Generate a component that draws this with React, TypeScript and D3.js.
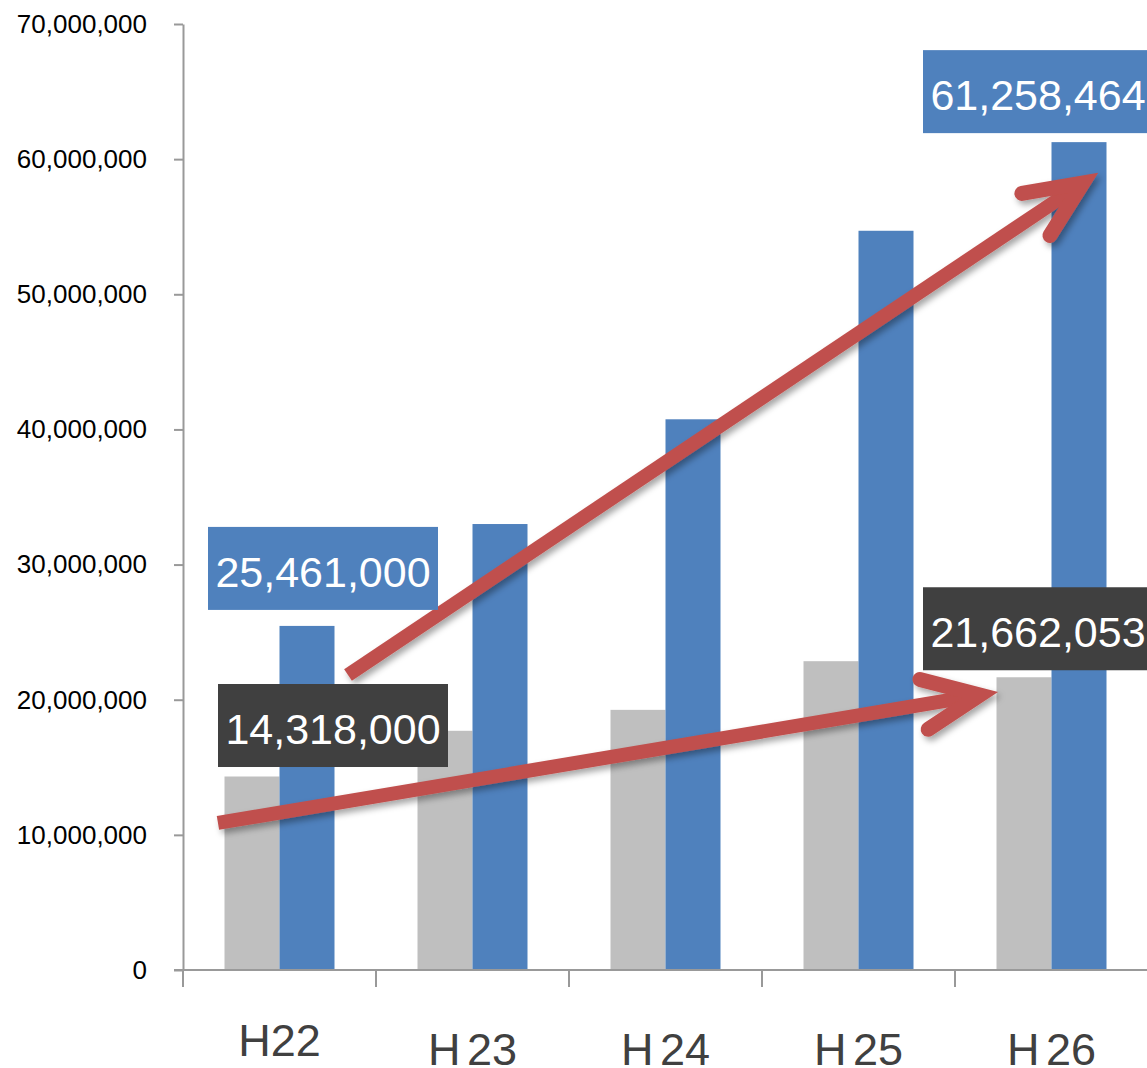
import React, { useEffect, useRef } from 'react';
import * as d3 from 'd3';

// categories and values
const categories = ['H22', 'H23', 'H24', 'H25', 'H26'];
const categoryLabels = ['H22', 'H 23', 'H 24', 'H 25', 'H 26'];
const grayValues = [14318000, 17700000, 19250000, 22850000, 21662053];
const blueValues = [25461000, 33000000, 40750000, 54700000, 61258464];
const yTicks = [0, 10000000, 20000000, 30000000, 40000000, 50000000, 60000000, 70000000];

// callouts: which category / value they belong to
const callouts = [
  { cat: 'H22', value: 25461000, kind: 'blue' },
  { cat: 'H22', value: 14318000, kind: 'dark' },
  { cat: 'H26', value: 61258464, kind: 'blue' },
  { cat: 'H26', value: 21662053, kind: 'dark' },
];

// trend arrows in (category index, value) space
const arrows = [
  { from: [0.355, 21830000], to: [4.163, 58240000] },
  { from: [-0.319, 10880000], to: [3.629, 20350000] },
];

const W = 1147, H = 1068;
const BLUE = '#4F81BD', GRAY = '#BFBFBF', DARK = '#404040', RED = '#C0504D', AXIS = '#999999';
const FONT = '"Liberation Sans", Arial, Helvetica, sans-serif';

// box offsets relative to category start / bar top
const calloutOffsets = [
  { dx: 25, dy: -99 },
  { dx: 35, dy: -92.5 },
  { dx: -32, dy: -92 },
  { dx: -32, dy: -90 },
];

export default function App() {
  const ref = useRef<SVGSVGElement>(null);

  useEffect(() => {
    const svg = d3.select(ref.current);
    svg.selectAll('*').remove();

    const x = d3.scaleBand().domain(categories).range([183, 1148]).padding(0);
    const bw = x.bandwidth();
    const group = 110;
    const xs = d3.scaleBand().domain(['gray', 'blue']).range([(bw - group) / 2, (bw + group) / 2]).padding(0);
    const y = d3.scaleLinear().domain([0, 70000000]).range([970, 24]);
    const xi = d3.scaleLinear().domain([0, 4]).range([x('H22')! + bw / 2, x('H26')! + bw / 2]);

    const defs = svg.append('defs');
    const filt = defs.append('filter').attr('id', 'shadow').attr('x', '-20%').attr('y', '-20%').attr('width', '140%').attr('height', '140%');
    filt.append('feDropShadow').attr('dx', 3).attr('dy', 4).attr('stdDeviation', 3)
      .attr('flood-color', '#000').attr('flood-opacity', 0.35);

    // y axis
    const yAxis = svg.append('g')
      .attr('transform', 'translate(183,0)')
      .call(d3.axisLeft(y).tickValues(yTicks).tickFormat(d3.format(',') as any).tickSize(9).tickSizeOuter(0).tickPadding(27));
    yAxis.select('.domain').attr('stroke', AXIS).attr('stroke-width', 2);
    yAxis.selectAll('.tick line').attr('stroke', AXIS).attr('stroke-width', 2);
    yAxis.selectAll('.tick text')
      .attr('fill', '#000').style('font-family', FONT).style('font-size', '26px');

    // bars
    const rows = categories.map((c, i) => ({ cat: c, gray: grayValues[i], blue: blueValues[i] }));
    const g = svg.append('g');
    g.selectAll('rect.gray').data(rows).enter().append('rect')
      .attr('x', d => x(d.cat)! + xs('gray')!)
      .attr('y', d => y(d.gray))
      .attr('width', xs.bandwidth())
      .attr('height', d => y(0) - y(d.gray))
      .attr('fill', GRAY);
    g.selectAll('rect.blue').data(rows).enter().append('rect')
      .attr('x', d => x(d.cat)! + xs('blue')!)
      .attr('y', d => y(d.blue))
      .attr('width', xs.bandwidth())
      .attr('height', d => y(0) - y(d.blue))
      .attr('fill', BLUE);

    // x axis
    const xa = svg.append('g');
    xa.append('line').attr('x1', 174).attr('x2', W).attr('y1', y(0)).attr('y2', y(0))
      .attr('stroke', AXIS).attr('stroke-width', 2);
    xa.selectAll('line.tick').data(categories).enter().append('line')
      .attr('x1', d => x(d)!).attr('x2', d => x(d)!)
      .attr('y1', y(0)).attr('y2', y(0) + 17)
      .attr('stroke', AXIS).attr('stroke-width', 2);
    xa.selectAll('text').data(categories).enter().append('text')
      .attr('x', d => x(d)! + bw / 2)
      .attr('y', (d, i) => (i === 0 ? 1056 : 1065))
      .attr('text-anchor', 'middle')
      .attr('fill', DARK)
      .style('font-family', FONT)
      .style('font-size', '45px')
      .style('white-space', 'pre')
      .style('word-spacing', '-6px')
      .text((d, i) => categoryLabels[i]);

    // arrows
    const ag = svg.append('g').attr('filter', 'url(#shadow)');
    arrows.forEach(a => {
      const x0 = xi(a.from[0]), y0 = y(a.from[1]);
      const x1 = xi(a.to[0]), y1 = y(a.to[1]);
      const ang = Math.atan2(y0 - y1, x0 - x1);
      const len = 62, spread = (24 * Math.PI) / 180;
      const b1 = [x1 + len * Math.cos(ang + spread), y1 + len * Math.sin(ang + spread)];
      const b2 = [x1 + len * Math.cos(ang - spread), y1 + len * Math.sin(ang - spread)];
      const p = d3.path();
      p.moveTo(x0, y0);
      p.lineTo(x1 - 6 * Math.cos(ang + Math.PI), y1 - 6 * Math.sin(ang + Math.PI));
      ag.append('path').attr('d', p.toString())
        .attr('stroke', RED).attr('stroke-width', 14).attr('fill', 'none').attr('stroke-linecap', 'butt');
      const h = d3.path();
      h.moveTo(b1[0], b1[1]);
      h.lineTo(x1, y1);
      h.lineTo(b2[0], b2[1]);
      ag.append('path').attr('d', h.toString())
        .attr('stroke', RED).attr('stroke-width', 15).attr('fill', 'none')
        .attr('stroke-linecap', 'round').attr('stroke-linejoin', 'miter').attr('stroke-miterlimit', 10);
    });

    // callouts
    const fmt = d3.format(',');
    const cg = svg.append('g');
    callouts.forEach((c, i) => {
      const off = calloutOffsets[i];
      const left = x(c.cat)! + off.dx;
      const top = y(c.value) + off.dy;
      cg.append('rect').attr('x', left).attr('y', top).attr('width', 230).attr('height', 83)
        .attr('fill', c.kind === 'blue' ? BLUE : DARK);
      cg.append('text').attr('x', left + 115).attr('y', top + 60)
        .attr('text-anchor', 'middle').attr('fill', '#fff')
        .style('font-family', FONT).style('font-size', '43px')
        .text(fmt(c.value));
    });
  }, []);

  return (
    <svg ref={ref} width={W} height={H}
      style={{ position: 'absolute', left: 0, top: 0, background: '#fff', display: 'block' }} />
  );
}
